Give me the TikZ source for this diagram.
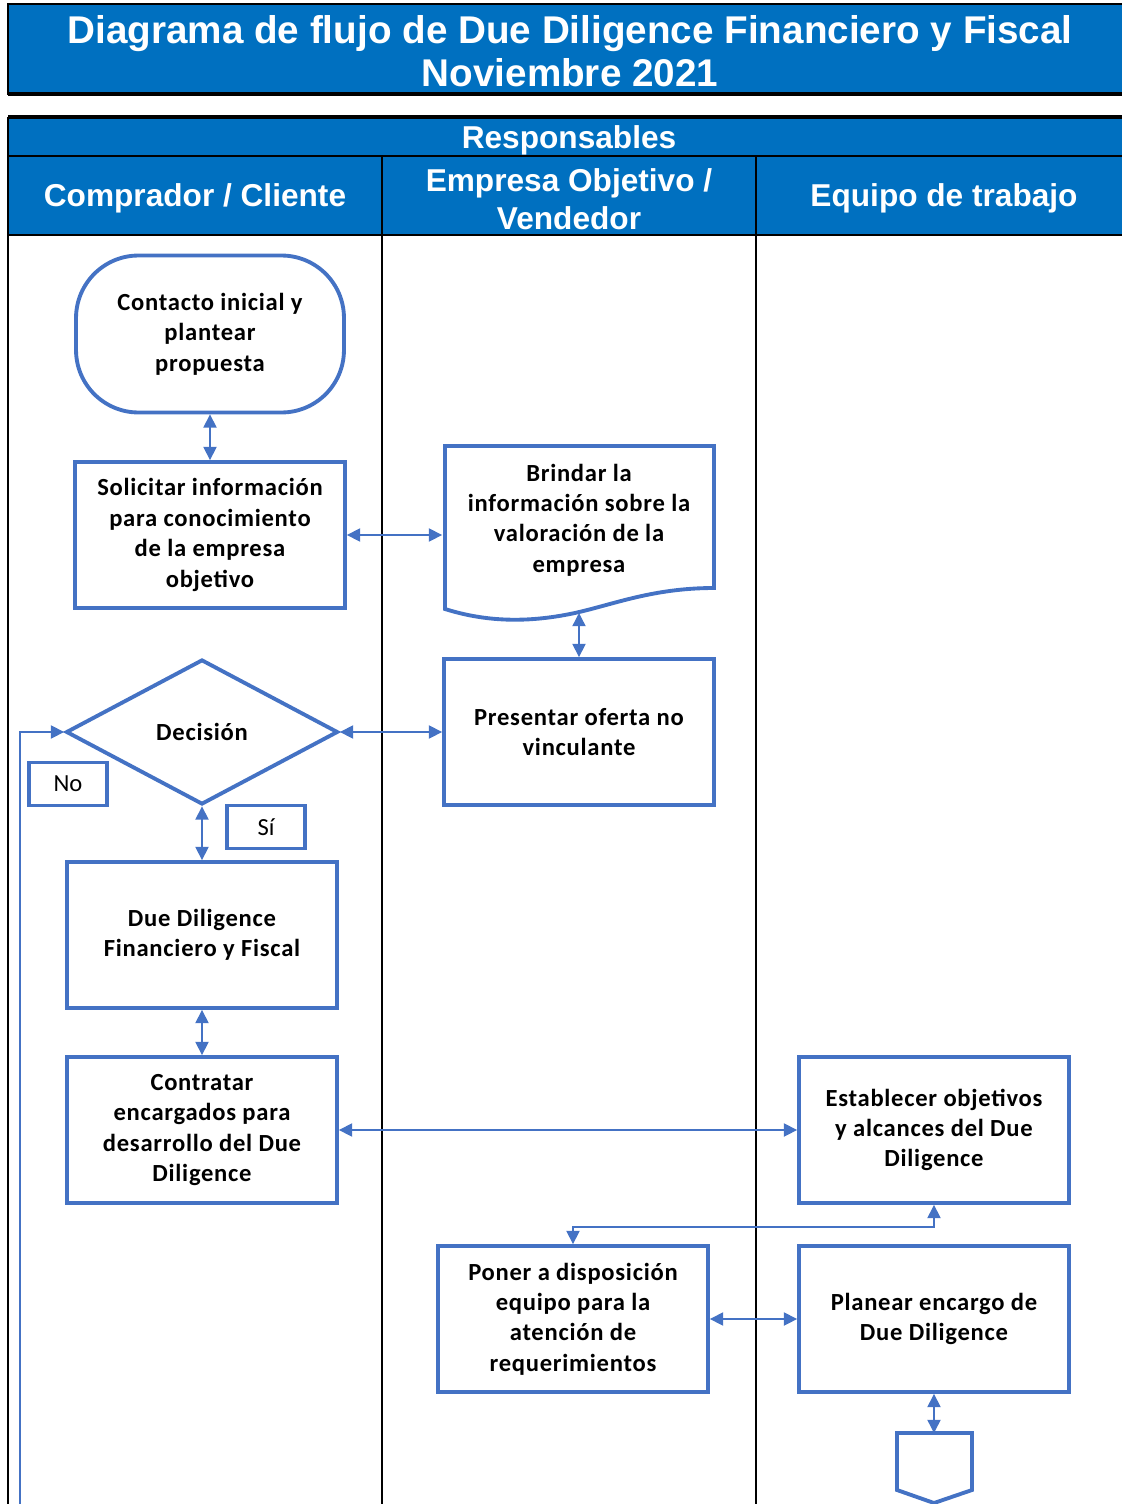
\documentclass[tikz,border=0pt]{standalone}
\usepackage{fontspec}
\setmainfont{Carlito}
\newfontfamily\arialfont{Liberation Sans}
\usetikzlibrary{shapes.geometric,arrows.meta}
\definecolor{titleblue}{HTML}{0070C0}
\definecolor{flowblue}{HTML}{4472C4}
\tikzset{
  procbox/.style={draw=flowblue, line width=2.2pt, fill=white, align=center,
    minimum width=5.4cm, minimum height=2.92cm,
    font=\fontsize{14}{17.3}\selectfont\bfseries\addfontfeatures{LetterSpace=3}},
  termbox/.style={procbox, rounded corners=1.25cm, minimum width=5.36cm, minimum height=3.14cm},
  decibox/.style={procbox, diamond, inner sep=0pt, minimum width=5.44cm, minimum height=2.9cm},
  tagbox/.style={draw=flowblue, line width=2.2pt, minimum width=1.56cm, minimum height=0.86cm,
    font=\fontsize{14}{17}\selectfont},
  link/.style={flowblue, line width=0.8pt,
    {Triangle[length=7.5pt,width=7.5pt]}-{Triangle[length=7.5pt,width=7.5pt]}},
  headtxt/.style={text=white, align=center, font=\arialfont\bfseries\fontsize{18}{21.5}\selectfont},
  rule/.style={black, line width=1.1pt}
}
\begin{document}
\begin{tikzpicture}[x=0.02cm, y=-0.02cm]
  \useasboundingbox (0,0) rectangle (1122,1504);
  \fill[titleblue] (8,4) rectangle (1130,95);
  \draw[black, line width=0.8pt] (1130,4) -- (8,4) -- (8,95);
  \draw[black, line width=2.3pt] (8,94) -- (1130,94);
  \node[headtxt, font=\arialfont\bfseries\fontsize{22}{24.4}\selectfont] (title) at (570,51)
    {Diagrama de flujo de Due Diligence Financiero y Fiscal\\Noviembre 2021};

  \fill[titleblue] (8,118) rectangle (1130,235);
  \draw[black, line width=2.3pt] (8,117) -- (1130,117);
  \draw[rule] (8,156) -- (1130,156);
  \draw[rule] (8,235) -- (1130,235);
  \draw[rule] (8,117) -- (8,1510);
  \draw[rule] (382,156) -- (382,1510);
  \draw[rule] (756,156) -- (756,1510);
  \node[headtxt] (resp) at (569,140) {Responsables};
  \node[headtxt] (comprador) at (195,198) {Comprador / Cliente};
  \node[headtxt] (empresa) at (569,199) {Empresa Objetivo /\\Vendedor};
  \node[headtxt] (equipo) at (944,198) {Equipo de trabajo};

  \node[termbox] (contacto) at (210,334) {Contacto inicial y\\plantear\\propuesta};
  \node[procbox] (solicitar) at (210,535) {Solicitar información\\para conocimiento\\de la empresa\\objetivo};
  \draw[flowblue, line width=2.2pt, fill=white] (445,446) -- (714,446) -- (714,588)
    .. controls (650,588) and (610,606) .. (570,614)
    .. controls (520,624) and (480,620) .. (445,609) -- cycle;
  \node[procbox, draw=none, fill=none, minimum height=2.6cm] (brindar) at (579,520)
    {Brindar la\\información sobre la\\valoración de la\\empresa};
  \coordinate (brindar-s) at (579,613);
  \node[procbox] (presentar) at (579,732) {Presentar oferta no\\vinculante};
  \node[decibox] (decision) at (202,732) {Decisión};
  \node[tagbox] (no) at (68,784) {No};
  \node[tagbox] (si) at (266,827) {Sí};
  \node[procbox] (duedil) at (202,935) {Due Diligence\\Financiero y Fiscal};
  \node[procbox] (contratar) at (202,1130) {Contratar\\encargados para\\desarrollo del Due\\Diligence};
  \node[procbox] (establecer) at (934,1130) {Establecer objetivos\\y alcances del Due\\Diligence};
  \node[procbox] (poner) at (573,1319) {Poner a disposición\\equipo para la\\atención de\\requerimientos};
  \node[procbox] (planear) at (934,1319) {Planear encargo de\\Due Diligence};
  \draw[flowblue, line width=2.2pt, fill=white] (897,1433) -- (972,1433) -- (972,1490)
    -- (934,1503) -- (897,1490) -- cycle;
  \coordinate (salida) at (934,1433);
  \coordinate (retorno) at (20,1510);

  \draw[link] (contacto) -- (solicitar);
  \draw[link] (solicitar.east) -- (solicitar.east -| brindar.west);
  \draw[link] (brindar-s) -- (presentar);
  \draw[link] (decision.east) -- (presentar.west);
  \draw[link] (decision.south) -- (duedil.north);
  \draw[link] (duedil) -- (contratar);
  \draw[link] (contratar.east) -- (establecer.west);
  \draw[link] (establecer.south) -- ++(0,22) -| (poner.north);
  \draw[link] (poner.east) -- (planear.west);
  \draw[link] (planear.south) -- (salida);
  \draw[link, -{Triangle[length=7.5pt,width=7.5pt]}] (retorno) |- (decision.west);
\end{tikzpicture}
\end{document}
